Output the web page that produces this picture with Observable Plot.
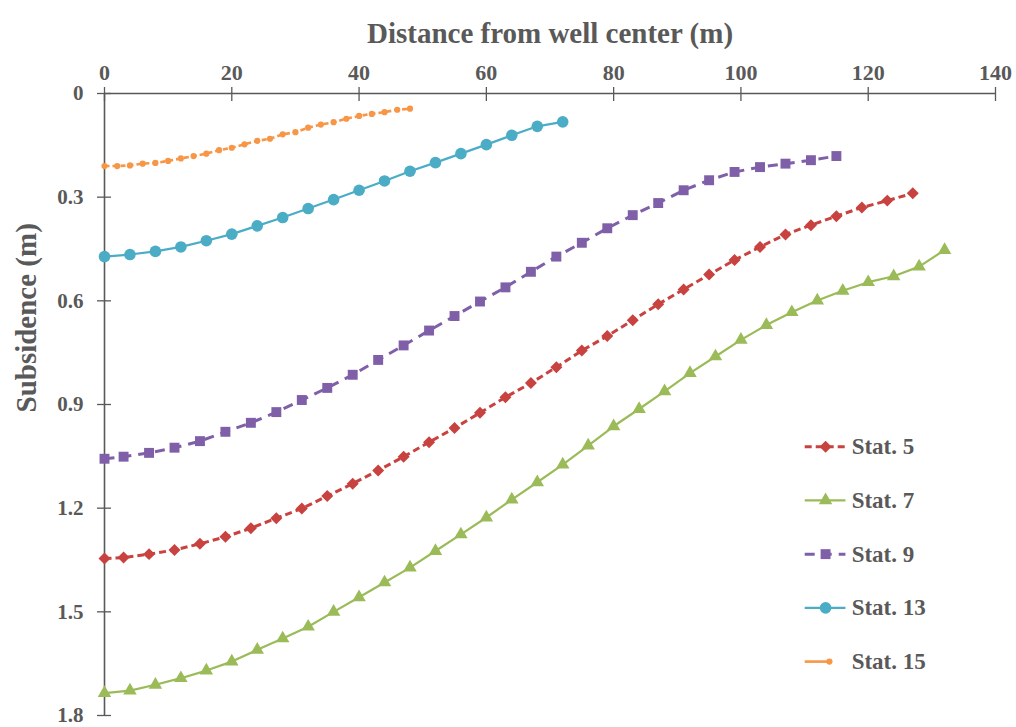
<!DOCTYPE html>
<html>
<head>
<meta charset="utf-8">
<script src="https://cdn.jsdelivr.net/npm/d3@7"></script>
<script src="https://cdn.jsdelivr.net/npm/@observablehq/plot@0.6"></script>
<style>
  html, body { margin: 0; padding: 0; background: #ffffff; }
  #chart svg { display: block; }
</style>
</head>
<body>
<div id="chart"></div>
<script>
// Distance from the well centre (m) and measured subsidence (m) for each station
const names = ["Stat. 5", "Stat. 7", "Stat. 9", "Stat. 13", "Stat. 15"];

const dist5 = [0, 3, 7, 11, 15, 19, 23, 27, 31, 35, 39, 43, 47, 51, 55, 59, 63, 67, 71, 75, 79, 83, 87, 91, 95, 99, 103, 107, 111, 115, 119, 123, 127];
const sub5 = [1.346, 1.343, 1.333, 1.321, 1.303, 1.283, 1.258, 1.229, 1.201, 1.165, 1.129, 1.091, 1.051, 1.009, 0.968, 0.924, 0.879, 0.838, 0.792, 0.744, 0.702, 0.656, 0.610, 0.567, 0.524, 0.482, 0.444, 0.408, 0.381, 0.355, 0.330, 0.310, 0.289];

const dist7 = [0, 4, 8, 12, 16, 20, 24, 28, 32, 36, 40, 44, 48, 52, 56, 60, 64, 68, 72, 76, 80, 84, 88, 92, 96, 100, 104, 108, 112, 116, 120, 124, 128, 132];
const sub7 = [1.735, 1.728, 1.711, 1.692, 1.670, 1.644, 1.610, 1.577, 1.543, 1.500, 1.458, 1.415, 1.372, 1.324, 1.276, 1.227, 1.175, 1.125, 1.074, 1.019, 0.963, 0.913, 0.862, 0.809, 0.761, 0.713, 0.670, 0.633, 0.599, 0.571, 0.546, 0.529, 0.501, 0.453];

const dist9 = [0, 3, 7, 11, 15, 19, 23, 27, 31, 35, 39, 43, 47, 51, 55, 59, 63, 67, 71, 75, 79, 83, 87, 91, 95, 99, 103, 107, 111, 115];
const sub9 = [1.057, 1.051, 1.040, 1.025, 1.006, 0.979, 0.953, 0.922, 0.887, 0.852, 0.814, 0.771, 0.729, 0.686, 0.644, 0.602, 0.561, 0.516, 0.472, 0.432, 0.390, 0.352, 0.317, 0.280, 0.251, 0.227, 0.213, 0.203, 0.193, 0.181];

const dist13 = [0, 4, 8, 12, 16, 20, 24, 28, 32, 36, 40, 44, 48, 52, 56, 60, 64, 68, 72];
const sub13 = [0.472, 0.466, 0.457, 0.444, 0.426, 0.407, 0.383, 0.359, 0.333, 0.307, 0.280, 0.253, 0.225, 0.200, 0.174, 0.148, 0.121, 0.095, 0.082];

const dist15 = [0, 2, 4, 6, 8, 10, 12, 14, 16, 18, 20, 22, 24, 26, 28, 30, 32, 34, 36, 38, 40, 42, 44, 46, 48];
const sub15 = [0.210, 0.210, 0.208, 0.203, 0.201, 0.195, 0.188, 0.181, 0.174, 0.164, 0.157, 0.147, 0.137, 0.131, 0.118, 0.112, 0.099, 0.090, 0.083, 0.073, 0.065, 0.059, 0.054, 0.047, 0.044];

const xTicks = [0, 20, 40, 60, 80, 100, 120, 140];
const yTicks = [0, 0.3, 0.6, 0.9, 1.2, 1.5, 1.8];
const yTickLabels = ["0", "0.3", "0.6", "0.9", "1.2", "1.5", "1.8"];

// Drawing style per station
const styles = [
  {dist: dist5,  sub: sub5,  color: "#C8423F", symbol: "diamond2", r: 5.4, width: 3,   dash: "7,4"},
  {dist: dist7,  sub: sub7,  color: "#9BBB59", symbol: "triangle", r: 5.0, width: 2.2, dash: null},
  {dist: dist9,  sub: sub9,  color: "#7F60A8", symbol: "square",   r: 5.6, width: 3,   dash: "10,7"},
  {dist: dist13, sub: sub13, color: "#4BACC6", symbol: "circle",   r: 5.8, width: 2.2, dash: null},
  {dist: dist15, sub: sub15, color: "#F79646", symbol: "circle",   r: 3.1, width: 2.6, dash: "5,3"}
];

const ink = "#595959";
const font = "'Liberation Serif', 'Times New Roman', serif";

// Legend rows, laid out in data space inside the lower-right of the frame
const legendTop = 1.022, legendStep = 0.1555;
const legendLine = [110.1, 116.5], legendMark = 113.3, legendText = 117.4;

const marks = [];

// Axis lines with ticks crossing them
marks.push(Plot.ruleY([0], {stroke: ink, strokeWidth: 1.6}));
marks.push(Plot.ruleX([0], {stroke: ink, strokeWidth: 1.6}));
marks.push(Plot.ruleX(xTicks, {x: d => d, y1: 0, y2: 0, insetTop: -6, insetBottom: -8, stroke: ink, strokeWidth: 1.3}));
marks.push(Plot.ruleY(yTicks, {y: d => d, x1: 0, x2: 0, insetLeft: -7, insetRight: -7, stroke: ink, strokeWidth: 1.3}));

marks.push(Plot.axisX(xTicks, {
  anchor: "top", tickSize: 0, tickPadding: 14, label: null,
  fontSize: 22, fontWeight: "bold", fontFamily: font, fill: ink, tickFormat: d => String(d)
}));
marks.push(Plot.axisY(yTicks, {
  anchor: "left", tickSize: 0, tickPadding: 21, label: null,
  fontSize: 21, fontWeight: "bold", fontFamily: font, fill: ink,
  tickFormat: d => yTickLabels[yTicks.indexOf(d)]
}));

// Axis titles
marks.push(Plot.text(["Distance from well center (m)"], {
  frameAnchor: "top", dy: -71, text: d => d,
  fontSize: 29, fontWeight: "bold", fontFamily: font, fill: ink
}));
marks.push(Plot.text(["Subsidence (m)"], {
  frameAnchor: "left", dx: -78, dy: 8, rotate: -90, text: d => d,
  fontSize: 29, fontWeight: "bold", fontFamily: font, fill: ink
}));

// Series and legend
styles.forEach((s, i) => {
  const rows = s.dist.map((d, k) => ({d, v: s.sub[k]}));
  const lineOpts = {stroke: s.color, strokeWidth: s.width, strokeLinecap: "butt"};
  if (s.dash) lineOpts.strokeDasharray = s.dash;
  marks.push(Plot.line(rows, {x: "d", y: "v", ...lineOpts}));
  marks.push(Plot.dot(rows, {x: "d", y: "v", symbol: s.symbol, r: s.r, fill: s.color, stroke: "none"}));

  const ly = legendTop + i * legendStep;
  const isLast = i === styles.length - 1;
  const sampleOpts = isLast ? {stroke: s.color, strokeWidth: s.width} : lineOpts;
  marks.push(Plot.ruleY([ly], {y: d => d, x1: legendLine[0], x2: isLast ? 114.4 : legendLine[1], ...sampleOpts}));
  marks.push(Plot.dot([ly], {x: isLast ? 113.9 : legendMark, y: d => d, symbol: s.symbol, r: s.r, fill: s.color, stroke: "none"}));
  marks.push(Plot.text([names[i]], {
    x: legendText, y: ly, text: d => d, textAnchor: "start",
    fontSize: 23, fontWeight: "bold", fontFamily: font, fill: ink
  }));
});

const chart = Plot.plot({
  width: 1016,
  height: 727,
  marginTop: 93,
  marginLeft: 104,
  marginRight: 21,
  marginBottom: 12,
  style: {background: "#ffffff", fontFamily: font},
  x: {domain: [0, 140]},
  y: {domain: [0, 1.8], reverse: true},
  marks
});

document.getElementById("chart").appendChild(chart);
</script>
</body>
</html>
